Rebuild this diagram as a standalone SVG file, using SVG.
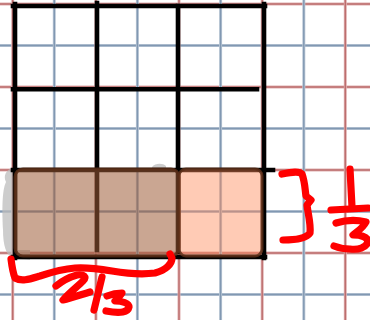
<svg xmlns="http://www.w3.org/2000/svg" width="370" height="320" viewBox="0 0 370 320">
<style>
.bw{stroke:#b9c6d5;stroke-width:3;fill:none}
.bn{stroke:#8198b2;stroke-width:1.4;fill:none}
.rw{stroke:#dfb0b0;stroke-width:3;fill:none}
.rn{stroke:#bd6e6e;stroke-width:1.4;fill:none}
.blk{stroke:#000;stroke-width:4.6;fill:none;stroke-linecap:square}
.ink{stroke:#ff0000;stroke-width:7.2;fill:none;stroke-linecap:round;stroke-linejoin:round}
</style>
<rect width="370" height="320" fill="#ffffff"/>
<g id="paper">
<path class="rw" d="M0,4H370M0,87H370M0,170H370M0,253H370"/>
<path class="rn" d="M0,4H370M0,87H370M0,170H370M0,253H370"/>
<path class="bw" d="M0,45.5H370M0,128.5H370M0,211.5H370M0,294.5H370"/>
<path class="bn" d="M0,45.5H370M0,128.5H370M0,211.5H370M0,294.5H370"/>
<path class="rw" d="M12.7,0V320M95.9,0V320M179,0V320M262.2,0V320M345.3,0V320"/>
<path class="rn" d="M12.7,0V320M95.9,0V320M179,0V320M262.2,0V320M345.3,0V320"/>
<path class="bw" d="M54.3,0V320M137.4,0V320M220.6,0V320M303.8,0V320"/>
<path class="bn" d="M54.3,0V320M137.4,0V320M220.6,0V320M303.8,0V320"/>
</g>
<g id="smudge" fill="#bdbdbd" opacity="0.75">
<path d="M12,168 C6,170 3,176 6,182 C2,190 2,210 3,230 C3,245 6,256 14,259 L30,260 L30,250 L18,250 L18,168 Z"/>
<path d="M152,167 C155,163 163,163 166,166 L166,169 L152,169 Z"/>
</g>
<g id="grid">
<path class="blk" d="M13,6H265"/>
<path class="blk" d="M13,89.3H257" stroke-linecap="round"/>
<path class="blk" d="M13,170H273"/>
<path class="blk" d="M13,257H265"/>
<path class="blk" d="M15,4V258"/>
<path class="blk" d="M97,3V250" stroke-linecap="round"/>
<path class="blk" d="M178,6V252" stroke-linecap="round"/>
<path class="blk" d="M264,4V258"/>
</g>
<g id="shade">
<rect x="15" y="169" width="164" height="87" rx="8" fill="rgb(158,93,56)" fill-opacity="0.55" stroke="#5a2e18" stroke-width="3" stroke-opacity="0.85"/>
<rect x="179" y="169" width="83" height="87" rx="7" fill="rgb(255,140,90)" fill-opacity="0.45" stroke="#5a2e18" stroke-width="3" stroke-opacity="0.85"/>
</g>
<g id="connectors">
<path class="ink" d="M282,174 C292,172 299,171 302,174 C305,182 305,190 306,196 L311,200 L307,205 C308,214 311,224 310,233 C306,239 294,240 283,240"/>
<path class="ink" d="M11,259 C12,267 13,273 15,278 C22,282 30,279 40,276 C52,272 62,269 75,268 C88,267 100,269 112,271 C124,273 140,275 155,273 C166,270 172,264 172,258 L170,254"/>
</g>
<g id="label-third">
<path class="ink" d="M350,169 L352,207"/>
<path class="ink" d="M331,210 L368,208"/>
<path class="ink" d="M336,223 C346,220 358,220 366,222 C363,228 358,231 353,235 C361,235 368,237 368,242 C366,248 358,250 350,249 C344,249 339,248 334,246"/>
</g>
<g id="label-two-thirds">
<path class="ink" d="M56,286 C62,281 70,277 77,275 C84,274 87,277 83,281 C77,287 70,292 63,300 C71,298 80,295 90,292"/>
<path class="ink" d="M102,277 L94,310"/>
<path class="ink" d="M107,296 C112,294 117,293 122,293 C120,296 117,299 115,301 C122,301 129,303 129,307 C128,312 121,314 106,311"/>
</g>
</svg>
